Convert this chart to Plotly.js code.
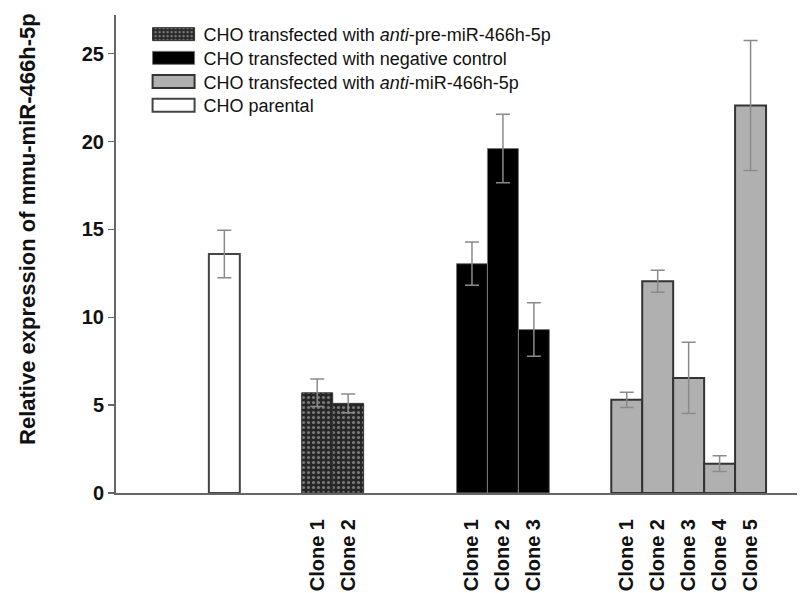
<!DOCTYPE html>
<html>
<head>
<meta charset="utf-8">
<script src="https://cdn.plot.ly/plotly-3.0.1.min.js"></script>
<style>
  html, body { margin: 0; padding: 0; background: #ffffff; }
  #chart { width: 800px; height: 593px; }
</style>
</head>
<body>
<div id="chart"></div>
<script>
// ---- data ----
const seriesNames = [
  'CHO transfected with <i>anti</i>-pre-miR-466h-5p',
  'CHO transfected with negative control',
  'CHO transfected with <i>anti</i>-miR-466h-5p',
  'CHO parental'
];

const parentalCats = ['CHO parental'];
const parentalValues = [13.6];
const parentalErrors = [1.35];

const preCats = ['pre Clone 1', 'pre Clone 2'];
const preLabels = ['Clone 1', 'Clone 2'];
const preValues = [5.7, 5.1];
const preErrors = [0.78, 0.54];

const negCats = ['neg Clone 1', 'neg Clone 2', 'neg Clone 3'];
const negLabels = ['Clone 1', 'Clone 2', 'Clone 3'];
const negValues = [13.05, 19.6, 9.3];
const negErrors = [1.23, 1.95, 1.52];

const antiCats = ['anti Clone 1', 'anti Clone 2', 'anti Clone 3', 'anti Clone 4', 'anti Clone 5'];
const antiLabels = ['Clone 1', 'Clone 2', 'Clone 3', 'Clone 4', 'Clone 5'];
const antiValues = [5.3, 12.05, 6.55, 1.67, 22.05];
const antiErrors = [0.44, 0.63, 2.03, 0.45, 3.7];

const yTicks = [0, 5, 10, 15, 20, 25];

// ---- layout helpers (empty slots between groups) ----
function spacers(n, start) {
  const out = [];
  for (let i = 0; i < n; i++) out.push(' '.repeat(start + i + 1));
  return out;
}
const categoryOrder = [].concat(
  parentalCats, spacers(2, 0),
  preCats, spacers(3, 2),
  negCats, spacers(2, 5),
  antiCats
);

const font = 'Liberation Sans, Arial, sans-serif';
const errStyle = { type: 'data', visible: true, color: '#8a8a8a', thickness: 1.5, width: 7 };

const traces = [
  {
    type: 'bar', name: seriesNames[0], legendgroup: 'a',
    x: preCats, y: preValues,
    error_y: Object.assign({ array: preErrors }, errStyle),
    marker: {
      color: '#262626',
      line: { color: '#333', width: 1 },
      pattern: { shape: '.', bgcolor: '#262626', fgcolor: '#7a7a7a', size: 5, solidity: 0.3, fillmode: 'replace' }
    }
  },
  {
    type: 'bar', name: seriesNames[1], legendgroup: 'b',
    x: negCats, y: negValues,
    error_y: Object.assign({ array: negErrors }, errStyle),
    marker: { color: '#000000', line: { color: '#777', width: 1 } }
  },
  {
    type: 'bar', name: seriesNames[2], legendgroup: 'c',
    x: antiCats, y: antiValues,
    error_y: Object.assign({ array: antiErrors }, errStyle),
    marker: { color: '#b0b0b0', line: { color: '#333', width: 2 } }
  },
  {
    type: 'bar', name: seriesNames[3], legendgroup: 'd',
    x: parentalCats, y: parentalValues,
    error_y: Object.assign({ array: parentalErrors }, errStyle),
    marker: { color: '#ffffff', line: { color: '#444', width: 2 } }
  }
];

const layout = {
  width: 800, height: 593,
  margin: { l: 116, r: 3, t: 15, b: 100 },
  paper_bgcolor: '#ffffff', plot_bgcolor: '#ffffff',
  barmode: 'overlay', bargap: 0,
  font: { family: font, color: '#111' },
  showlegend: true,
  legend: {
    x: 0.0405, y: 0.998, xanchor: 'left', yanchor: 'top',
    bgcolor: 'rgba(0,0,0,0)', traceorder: 'normal',
    font: { family: font, size: 18, color: '#111' },
    itemwidth: 50, tracegroupgap: 0
  },
  xaxis: {
    type: 'category', categoryorder: 'array', categoryarray: categoryOrder,
    range: [-3.5, 18.5],
    showline: true, linecolor: '#666', linewidth: 2,
    showgrid: false, zeroline: false, ticks: '',
    tickmode: 'array',
    tickvals: preCats.concat(negCats, antiCats),
    ticktext: preLabels.concat(negLabels, antiLabels),
    tickangle: -90, ticklabelstandoff: 16,
    tickfont: { family: font, size: 20, color: '#111', weight: 'bold' }
  },
  yaxis: {
    range: [0, 27.2], tickmode: 'array', tickvals: yTicks,
    showline: true, linecolor: '#666', linewidth: 2,
    ticks: 'outside', ticklen: 6, tickcolor: '#666', tickwidth: 1.5,
    showgrid: false, zeroline: false,
    tickfont: { family: font, size: 20, color: '#111', weight: 'bold' }
  },
  annotations: [{
    text: '<b>Relative expression of mmu-miR-466h-5p</b>',
    xref: 'paper', yref: 'paper', x: -0.131, y: 0.552,
    xanchor: 'center', yanchor: 'middle', textangle: -90, showarrow: false,
    font: { family: font, size: 22, color: '#111' }
  }]
};

Plotly.newPlot('chart', traces, layout, { displayModeBar: false, staticPlot: true }).then(function (gd) {
  // widen legend swatches to match the rectangular keys of the original
  gd.querySelectorAll('.legend .legendpoints path').forEach(function (p) {
    p.setAttribute('d', 'M21,6.5H-21V-6.5H21Z');
  });
  // tighten legend row spacing to match the original
  const rowGap = 23.7;
  const items = gd.querySelectorAll('.legend .traces');
  let x0 = null, y0 = null;
  items.forEach(function (el, i) {
    const m = /translate\(\s*([-\d.]+)[ ,]+([-\d.]+)\s*\)/.exec(el.getAttribute('transform') || '');
    if (!m) return;
    if (i === 0) { x0 = parseFloat(m[1]); y0 = parseFloat(m[2]); }
    el.setAttribute('transform', 'translate(' + x0 + ',' + (y0 + i * rowGap) + ')');
  });
});
</script>
</body>
</html>
